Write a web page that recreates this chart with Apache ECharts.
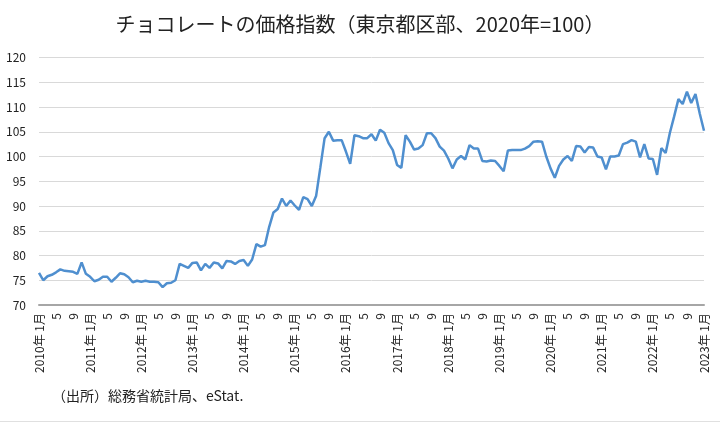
<!DOCTYPE html>
<html><head><meta charset="utf-8">
<script src="https://cdn.jsdelivr.net/npm/echarts@6/dist/echarts.min.js"></script>
<style>html,body{margin:0;padding:0;background:#fff}#c{width:720px;height:423px}</style>
</head><body><div id="c"></div>
<script>
const startYear = 2010;
const monthCount = 157;
const yTicks = [70, 75, 80, 85, 90, 95, 100, 105, 110, 115, 120];
const values2010_2012 = [
  76.5, 75.0, 75.8, 76.1, 76.6, 77.2, 76.9, 76.8, 76.7, 76.3, 78.6, 76.3,
  75.7, 74.8, 75.1, 75.7, 75.7, 74.7, 75.5, 76.4, 76.2, 75.6, 74.6, 74.9,
  74.7, 74.9, 74.7, 74.7, 74.6, 73.6, 74.4, 74.5, 75.0, 78.3, 77.9, 77.5
];
const values2013_2015 = [
  78.5, 78.6, 77.0, 78.3, 77.5, 78.6, 78.4, 77.4, 78.9, 78.8, 78.3, 78.9,
  79.1, 77.9, 79.2, 82.3, 81.8, 82.1, 85.8, 88.7, 89.4, 91.5, 90.0, 91.1,
  90.1, 89.2, 91.8, 91.4, 90.0, 92.0, 97.8, 103.7, 105.0, 103.2, 103.3, 103.3
];
const values2016_2018 = [
  101.0, 98.5, 104.3, 104.1, 103.7, 103.7, 104.5, 103.2, 105.4, 104.8, 102.7, 101.3,
  98.3, 97.7, 104.3, 103.0, 101.4, 101.6, 102.3, 104.7, 104.7, 103.7, 102.0, 101.2,
  99.6, 97.6, 99.4, 100.1, 99.4, 102.3, 101.6, 101.6, 99.1, 99.0, 99.2, 99.1
];
const values2019_2021 = [
  98.1, 97.0, 101.2, 101.3, 101.3, 101.3, 101.6, 102.1, 103.0, 103.1, 103.0, 100.0,
  97.6, 95.7, 98.1, 99.4, 100.1, 99.1, 102.1, 102.0, 100.8, 101.9, 101.8, 100.0,
  99.8, 97.4, 100.0, 100.0, 100.2, 102.5, 102.8, 103.3, 103.0, 99.8, 102.5, 99.6
];
const values2022_2023 = [
  99.5, 96.3, 101.7, 100.7, 104.8, 108.1, 111.6, 110.6, 113.1, 110.8, 112.6, 108.7,
  105.2
];
const values = [].concat(values2010_2012, values2013_2015, values2016_2018, values2019_2021, values2022_2023);
const categories = [];
for (let i = 0; i < monthCount; i++) {
  const y = startYear + Math.floor(i / 12), m = (i % 12) + 1;
  categories.push(m === 1 ? y + '年 1月' : String(m));
}
const titleText = 'チョコレートの価格指数（東京都区部、2020年=100）';
const sourceText = '（出所）総務省統計局、eStat.';
const font = '"Noto Sans CJK JP", "Noto Sans", sans-serif';

const chart = echarts.init(document.getElementById('c'), null, {renderer: 'canvas'});
chart.setOption({
  animation: false,
  textStyle: {fontFamily: font},
  title: {
    text: titleText, left: 355, top: 9, textAlign: 'center',
    textStyle: {fontSize: 20, fontWeight: 'normal', color: '#222', fontFamily: font}
  },
  grid: {left: 39, right: 16, top: 57.5, bottom: 118, containLabel: false},
  xAxis: {
    type: 'category', data: categories, boundaryGap: false,
    axisLine: {show: true, lineStyle: {color: '#a6a6a6', width: 2}},
    axisTick: {show: false},
    axisLabel: {
      interval: 3, rotate: 90, fontSize: 12, color: '#222', margin: 8,
      fontFamily: font
    },
    splitLine: {show: false}
  },
  yAxis: {
    type: 'value', min: yTicks[0], max: yTicks[yTicks.length - 1], interval: 5,
    axisLine: {show: false}, axisTick: {show: false},
    axisLabel: {fontSize: 12, color: '#222', margin: 13, fontFamily: font},
    splitLine: {lineStyle: {color: '#d9d9d9', width: 1}}
  },
  series: [{
    type: 'line', data: values, symbol: 'none', smooth: false,
    lineStyle: {color: '#4f8fcf', width: 2.5}
  }],
  graphic: [
    {type: 'text', left: 52, top: 389, style: {text: sourceText, fontSize: 14, fill: '#222', fontFamily: font}},
    {type: 'rect', shape: {x: 0, y: 421, width: 720, height: 1}, style: {fill: '#e0e0e0'}}
  ]
});
</script></body></html>
